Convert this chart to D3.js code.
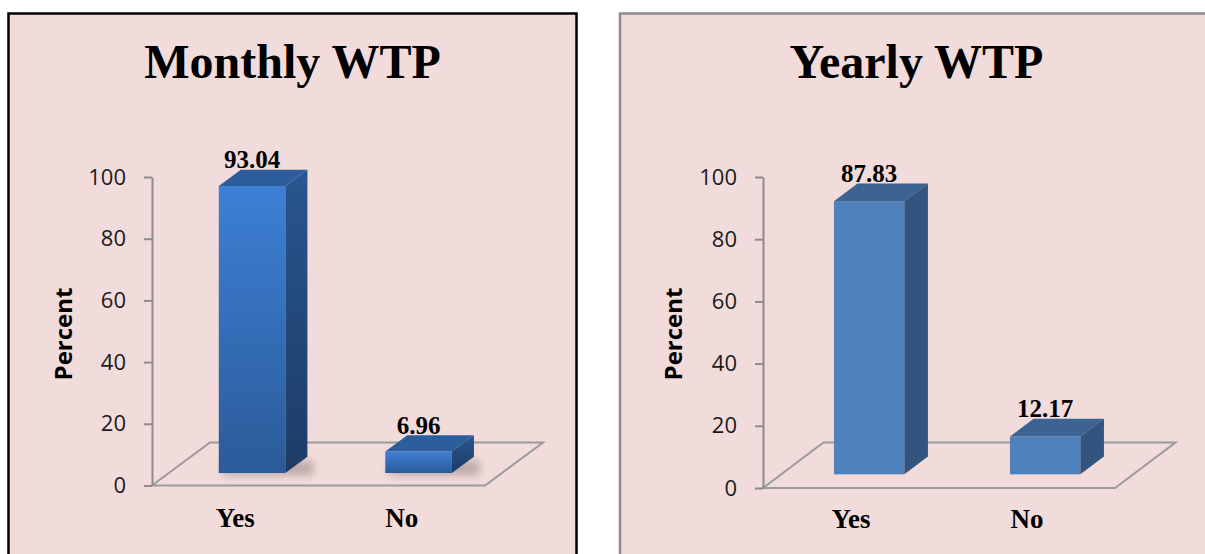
<!DOCTYPE html>
<html>
<head>
<meta charset="utf-8">
<script src="https://cdn.jsdelivr.net/npm/d3@7"></script>
<style>
  html, body { margin: 0; padding: 0; background: #ffffff; }
  svg { display: block; }
</style>
</head>
<body>
<svg id="chart" width="1205" height="554"></svg>
<script>
// Willingness-to-pay survey results, in percent
const categories = ["Yes", "No"];
const monthlyValues = [93.04, 6.96];
const yearlyValues = [87.83, 12.17];
const yTicks = [0, 20, 40, 60, 80, 100];
const chartTitles = ["Monthly WTP", "Yearly WTP"];
const axisTitle = "Percent";

const svg = d3.select("#chart");
const defs = svg.append("defs");

// Panel layouts (pixel geometry only)
const panels = [
  {
    title: chartTitles[0], values: monthlyValues,
    box: { x: 8.5, y: 13.5, w: 568, h: 600, stroke: "#000000" },
    plotX: [152, 485], plotY: [485.5, 177],
    depth: { x: 58, y: -43 }, barDepth: [0.29, 0.67],
    titleX: 292.5, percentX: 64, percentY: 334, catY: 527,
    style: "gradient"
  },
  {
    title: chartTitles[1], values: yearlyValues,
    box: { x: 620, y: 13.5, w: 593, h: 600, stroke: "#8c8c8c" },
    plotX: [763, 1115], plotY: [488, 177],
    depth: { x: 60.5, y: -45.5 }, barDepth: [0.30, 0.69],
    titleX: 916.5, percentX: 674, percentY: 334, catY: 528,
    style: "flat"
  }
];

// Gradients for the shaded columns
function linGrad(id, stops) {
  const g = defs.append("linearGradient").attr("id", id)
    .attr("x1", 0).attr("y1", 0).attr("x2", 0).attr("y2", 1);
  stops.forEach(([o, c]) => g.append("stop").attr("offset", o).attr("stop-color", c));
}
linGrad("frontGrad", [[0, "#3d80d6"], [1, "#2b5b98"]]);
linGrad("sideGrad", [[0, "#28568f"], [1, "#1d3c66"]]);

defs.append("filter").attr("id", "shadow")
  .attr("x", "-50%").attr("y", "-50%").attr("width", "200%").attr("height", "200%")
  .append("feGaussianBlur").attr("stdDeviation", 4);

const colors = {
  gradient: { front: "url(#frontGrad)", top: "#2c5d9c", side: "url(#sideGrad)" },
  flat: { front: "#4f81bd", top: "#3c6391", side: "#33547e" }
};

panels.forEach(p => {
  const g = svg.append("g");

  // Pink panel with border
  g.append("rect")
    .attr("x", p.box.x).attr("y", p.box.y)
    .attr("width", p.box.w).attr("height", p.box.h)
    .attr("fill", "#f2dcdb")
    .attr("stroke", p.box.stroke).attr("stroke-width", 2.5);

  // Title
  g.append("text")
    .attr("x", p.titleX).attr("y", 78)
    .attr("text-anchor", "middle")
    .attr("font-family", "'Liberation Serif', 'Times New Roman', serif")
    .attr("font-weight", "bold").attr("font-size", 48)
    .attr("fill", "#000").text(p.title);

  const x = d3.scaleBand().domain(categories)
    .range(p.plotX).paddingInner(0.6).paddingOuter(0.3);
  const y = d3.scaleLinear().domain([0, 100]).range(p.plotY);
  const D = p.depth;
  const [x0, x1] = p.plotX;
  const yBase = y(0);

  // Floor of the 3-D plot area
  g.append("path")
    .attr("d", d3.line()([
      [x0, yBase], [x0 + D.x, yBase + D.y], [x1 + D.x, yBase + D.y], [x1, yBase]
    ]) + "Z")
    .attr("fill", "none").attr("stroke", "#9a9a9a").attr("stroke-width", 2);

  // Value axis
  const axis = d3.axisLeft(y).tickValues(yTicks)
    .tickSize(8).tickSizeOuter(0).tickPadding(18);
  const ag = g.append("g").attr("transform", `translate(${x0},0)`).call(axis);
  ag.select(".domain").attr("stroke", "#8c8c8c").attr("stroke-width", 2);
  ag.selectAll(".tick line").attr("stroke", "#8c8c8c").attr("stroke-width", 2);
  ag.selectAll(".tick text")
    .attr("font-family", "'Open Sans', sans-serif")
    .attr("font-size", 22).attr("fill", "#1a1a1a");

  // Axis title
  g.append("text")
    .attr("transform", `translate(${p.percentX},${p.percentY}) rotate(-90)`)
    .attr("text-anchor", "middle").attr("dy", "0.35em")
    .attr("font-family", "'Open Sans', sans-serif")
    .attr("font-weight", "bold").attr("font-size", 24)
    .attr("fill", "#000").text(axisTitle);

  // Category labels
  g.selectAll("text.cat").data(categories).join("text")
    .attr("class", "cat")
    .attr("x", d => x(d) + x.bandwidth() / 2).attr("y", p.catY)
    .attr("text-anchor", "middle")
    .attr("font-family", "'Liberation Serif', 'Times New Roman', serif")
    .attr("font-weight", "bold").attr("font-size", 27)
    .attr("fill", "#000").text(d => d);

  // 3-D columns
  const f1 = { x: D.x * p.barDepth[0], y: D.y * p.barDepth[0] };
  const f2 = { x: D.x * p.barDepth[1], y: D.y * p.barDepth[1] };
  const c = colors[p.style];
  const data = categories.map((k, i) => ({ k, v: p.values[i] }));

  const bars = g.selectAll("g.bar").data(data).join("g").attr("class", "bar");

  if (p.style === "gradient") {
    bars.append("path")
      .attr("d", d => {
        const l = x(d.k) + f1.x, r = l + x.bandwidth() + (f2.x - f1.x);
        const b = yBase + f1.y;
        return d3.line()([[l + 4, b + 2], [r + 6, b + 2], [r + 6, b - 12], [l + 4, b - 12]]) + "Z";
      })
      .attr("fill", "#5a4a4a").attr("opacity", 0.35).attr("filter", "url(#shadow)");
  }

  // front face
  bars.append("rect")
    .attr("x", d => x(d.k) + f1.x)
    .attr("y", d => y(d.v) + f1.y)
    .attr("width", x.bandwidth())
    .attr("height", d => yBase - y(d.v))
    .attr("fill", c.front);

  // top face
  bars.append("path")
    .attr("d", d => {
      const l = x(d.k) + f1.x, r = l + x.bandwidth(), t = y(d.v) + f1.y;
      const ex = f2.x - f1.x, ey = f2.y - f1.y;
      return d3.line()([[l, t], [r, t], [r + ex, t + ey], [l + ex, t + ey]]) + "Z";
    })
    .attr("fill", c.top);

  // side face
  bars.append("path")
    .attr("d", d => {
      const r = x(d.k) + f1.x + x.bandwidth(), t = y(d.v) + f1.y, b = yBase + f1.y;
      const ex = f2.x - f1.x, ey = f2.y - f1.y;
      return d3.line()([[r, t], [r + ex, t + ey], [r + ex, b + ey], [r, b]]) + "Z";
    })
    .attr("fill", c.side);

  // value labels
  bars.append("text")
    .attr("x", d => x(d.k) + f1.x + x.bandwidth() / 2)
    .attr("y", d => y(d.v) + f2.y - 1.5)
    .attr("text-anchor", "middle")
    .attr("font-family", "'Liberation Serif', 'Times New Roman', serif")
    .attr("font-weight", "bold").attr("font-size", 25)
    .attr("fill", "#000")
    .text(d => d.v.toFixed(2));
});
</script>
</body>
</html>
